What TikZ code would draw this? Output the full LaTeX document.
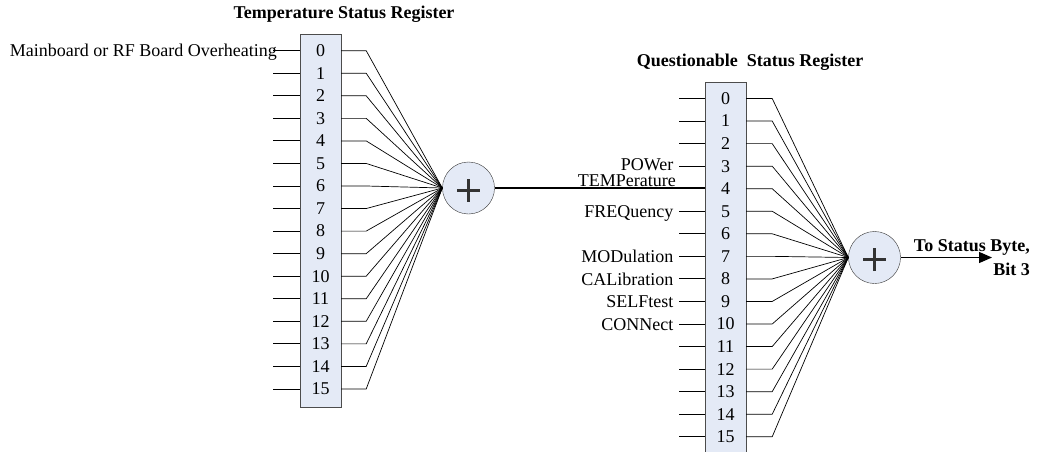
\documentclass[tikz,border=0pt]{standalone}
\usepackage{fontspec}
\setmainfont{Liberation Serif}
\usetikzlibrary{arrows.meta}
\definecolor{regblue}{RGB}{228,234,246}
\tikzset{
    regbox/.style={draw=black!70, fill=regblue, minimum width=41pt, inner sep=0pt},
    bitnum/.style={inner sep=0pt, font=\fontsize{18}{20}\selectfont},
    sumnode/.style={circle, draw=black!80, fill=regblue, minimum size=52pt, inner sep=0pt,
        path picture={
            \draw[line width=3pt] ([xshift=-11.5pt,yshift=-2pt]path picture bounding box.center) -- ([xshift=11.5pt,yshift=-2pt]path picture bounding box.center);
            \draw[line width=3pt] ([yshift=-13.5pt]path picture bounding box.center) -- ([yshift=9.5pt]path picture bounding box.center);
        }},
    sig/.style={line width=0.9pt},
    fan/.style={line width=0.7pt},
    lbl/.style={anchor=base east, inner sep=0pt, font=\fontsize{18}{20}\selectfont},
    title/.style={anchor=base, inner sep=0pt, font=\fontsize{18}{20}\selectfont\bfseries}
}
\begin{document}
\begin{tikzpicture}[x=1pt,y=-1pt]
        \useasboundingbox (0,0) rectangle (1038,452);

        % temperature status register
        \node[title] (ttitle) at (344,18.5) {Temperature Status Register};
        \node[regbox, minimum height=373pt] (treg) at (320.5,220.5) {};
        \node[sumnode] (tsum) at (468.5,188) {};
        \foreach \i in {0,...,15}{
            \node[bitnum] (tb\i) at (320.5,{50.7+22.55*\i}) {\i};
            \coordinate (tin\i) at (273,{50.7+22.55*\i});
            \draw[sig] (tin\i) -- (tb\i -| treg.west);
            \draw[fan] (tb\i -| treg.east) -- ++(25,0) -- (tsum.west);
        }
        \node[lbl] (tl0) at (277,56.5) {Mainboard or RF Board Overheating};

        % questionable status register
        \node[title] (qtitle) at (750,66.7) {Questionable\ \ Status Register};
        \node[regbox, minimum height=371pt] (qreg) at (725.5,267.5) {};
        \node[sumnode] (qsum) at (874.5,257.5) {};
        \foreach \i in {0,...,15}{
            \node[bitnum] (qb\i) at (725.5,{98.5+22.55*\i}) {\i};
            \coordinate (qin\i) at (679,{98.5+22.55*\i});
            \draw[fan] (qb\i -| qreg.east) -- ++(26,0) -- (qsum.west);
        }
        \foreach \i in {0,1,2,3,5,6,...,15}{
            \draw[sig] (qin\i) -- (qb\i -| qreg.west);
        }
        \foreach \i/\txt in {5/FREQuency,7/MODulation,8/CALibration,9/SELFtest,10/CONNect}{
            \node[lbl] (ql\i) at ([xshift=-5.5pt,yshift=-6.5pt]qin\i) {\txt};
        }
        \node[lbl] (ql3) at ([xshift=-5.5pt,yshift=-4.3pt]qin3) {POWer};
        \node[lbl] (ql4) at (676,186.5) {TEMPerature};
        \draw[line width=1.3pt] (tsum.east) -- (tsum.east -| qreg.west);

        % output to status byte
        \coordinate (sbout) at (992,257.5);
        \draw[line width=1.3pt, -{Triangle[length=13pt,width=11pt]}] (qsum.east) -- (sbout);
        \node[lbl, font=\fontsize{18}{20}\selectfont\bfseries] (tobyte) at (1030,251.7) {To Status Byte,};
        \node[lbl, font=\fontsize{18}{20}\selectfont\bfseries] (bit3) at (1030,275) {Bit 3};
\end{tikzpicture}
\end{document}
